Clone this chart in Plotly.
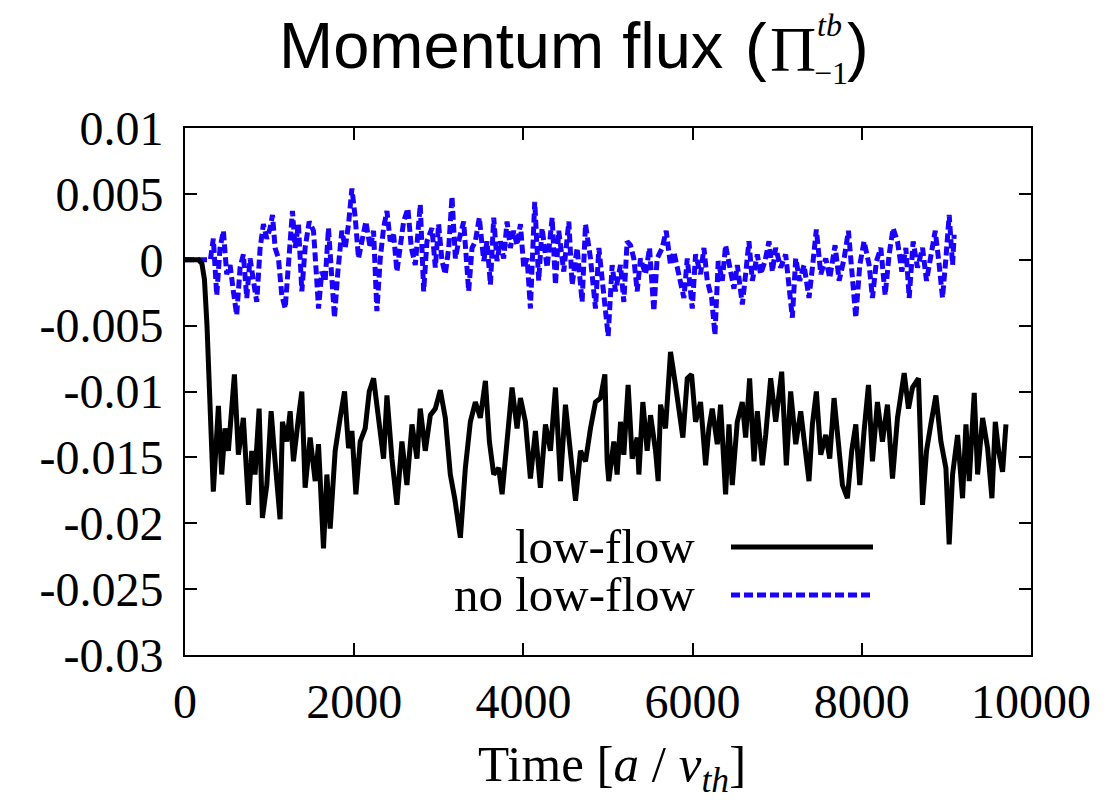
import plotly.graph_objects as go

# ---------------- data ----------------
t_low = [0, 160, 200, 230, 260, 290, 320, 335,
         395, 434, 473, 513, 584, 631, 690, 750, 789, 828, 876, 915, 967, 1018, 1065, 1124,
         1152, 1203, 1243, 1282, 1341, 1381, 1420, 1479, 1539, 1578, 1637, 1677, 1716, 1775,
         1834, 1886, 1933, 1973, 2020, 2071, 2130, 2178, 2229, 2288, 2347, 2387, 2446, 2505,
         2564, 2623, 2683, 2742, 2781, 2840, 2900, 2959, 3018, 3077, 3136, 3188, 3255, 3314,
         3373, 3432, 3491, 3551, 3598, 3649, 3708, 3748, 3807, 3866, 3925, 3965, 4024, 4083,
         4142, 4201, 4261, 4320, 4379, 4438, 4497, 4556, 4616, 4675, 4734, 4793, 4852, 4911,
         4963, 4990, 5009, 5069, 5108, 5148, 5187, 5238, 5286, 5345, 5365, 5412, 5463, 5503,
         5562, 5593, 5621, 5680, 5739, 5798, 5838, 5885, 5937, 5988, 6035, 6094, 6154, 6193,
         6232, 6292, 6331, 6390, 6430, 6469, 6528, 6587, 6627, 6674, 6726, 6765, 6824, 6864,
         6923, 6982, 7053, 7108, 7159, 7219, 7278, 7337, 7376, 7416, 7463, 7515, 7574, 7621,
         7672, 7732, 7771, 7830, 7881, 7929, 7976, 8027, 8079, 8126, 8185, 8244, 8303, 8363,
         8422, 8501, 8552, 8599, 8670, 8718, 8765, 8816, 8876, 8935, 8994, 9033, 9073, 9132,
         9191, 9231, 9270, 9329, 9369, 9428, 9487, 9538, 9578, 9617, 9664, 9704]
v_low = [0, 0, -0.0003, -0.0015, -0.005, -0.010, -0.0155, -0.0176,
         -0.0111, -0.0163, -0.0128, -0.0145, -0.0087, -0.0148, -0.0120, -0.0186, -0.0145, -0.0163,
         -0.0113, -0.0196, -0.0171, -0.0115, -0.0153, -0.0197,
         -0.0123, -0.0138, -0.0115, -0.0153, -0.0120, -0.0100, -0.0173, -0.0135, -0.0168, -0.0140,
         -0.0219, -0.0163, -0.0204, -0.0145,
         -0.0120, -0.0100, -0.0143, -0.0130, -0.0178, -0.0138, -0.0128, -0.0100, -0.0090, -0.0120,
         -0.0151, -0.0103, -0.0151, -0.0186,
         -0.0138, -0.0171, -0.0125, -0.0151, -0.0113, -0.0145, -0.0118, -0.0113, -0.0099, -0.0120,
         -0.0163, -0.0181, -0.0211, -0.0158,
         -0.0123, -0.0108, -0.0120, -0.0092, -0.0138, -0.0163, -0.0158, -0.0178, -0.0138, -0.0097,
         -0.0128, -0.0105, -0.0123, -0.0166,
         -0.0130, -0.0173, -0.0125, -0.0145, -0.0097, -0.0168, -0.0110, -0.0151, -0.0183, -0.0145,
         -0.0153, -0.0128, -0.0108, -0.0105,
         -0.0087, -0.0153, -0.0168, -0.0138, -0.0163, -0.0123, -0.0148, -0.0095, -0.0151, -0.0135,
         -0.0163, -0.0108, -0.0145, -0.0118,
         -0.0145, -0.0168, -0.0110, -0.0128, -0.0070, -0.0095, -0.0113, -0.0135, -0.0090, -0.0087,
         -0.0123, -0.0108, -0.0156, -0.0128,
         -0.0113, -0.0140, -0.0110, -0.0178, -0.0125, -0.0171, -0.0123, -0.0108, -0.0135, -0.0090,
         -0.0153, -0.0115, -0.0156, -0.0133,
         -0.0090, -0.0123, -0.0085, -0.0156, -0.0100, -0.0140, -0.0115, -0.0151, -0.0168, -0.0125,
         -0.0100, -0.0148, -0.0133, -0.0151,
         -0.0105, -0.0145, -0.0171, -0.0181, -0.0145, -0.0125, -0.0171, -0.0130, -0.0095, -0.0153,
         -0.0108, -0.0138, -0.0110, -0.0166,
         -0.0120, -0.0086, -0.0113, -0.0097, -0.0090, -0.0186, -0.0145, -0.0125, -0.0103, -0.0138,
         -0.0158, -0.0216, -0.0163, -0.0133,
         -0.0181, -0.0125, -0.0168, -0.0101, -0.0163, -0.0120, -0.0143, -0.0181, -0.0123, -0.0145,
         -0.0161, -0.0125]

t_nolow = [0, 300, 335, 375, 414, 454, 493, 533, 572, 611, 651, 690, 730, 769, 809, 848, 888,
           927, 967, 1006, 1034, 1065, 1105, 1144, 1184, 1223, 1270, 1302, 1341, 1381, 1420,
           1468, 1519, 1558, 1578, 1617, 1657, 1696, 1736, 1767, 1807, 1854, 1894, 1933, 1973,
           2012, 2051, 2091, 2138, 2189, 2229, 2268, 2308, 2347, 2387, 2426, 2466, 2505, 2545,
           2584, 2635, 2675, 2722, 2781, 2821, 2860, 2919, 2959, 2998, 3038, 3077, 3117, 3156,
           3196, 3235, 3294, 3353, 3393, 3432, 3479, 3531, 3570, 3610, 3649, 3688, 3728, 3767,
           3807, 3846, 3886, 3925, 3965, 4004, 4044, 4083, 4134, 4181, 4221, 4280, 4340, 4379,
           4418, 4477, 4537, 4576, 4635, 4694, 4734, 4793, 4852, 4892, 4951, 5002, 5049, 5088,
           5148, 5187, 5226, 5266, 5305, 5345, 5384, 5443, 5491, 5542, 5581, 5641, 5688, 5739,
           5779, 5838, 5897, 5937, 5996, 6035, 6094, 6134, 6173, 6225, 6264, 6303, 6351, 6390,
           6438, 6489, 6529, 6588, 6627, 6666, 6706, 6765, 6804, 6856, 6903, 6943, 6982, 7041,
           7100, 7140, 7179, 7219, 7266, 7317, 7376, 7416, 7463, 7515, 7574, 7621, 7684, 7732,
           7791, 7842, 7889, 7929, 7976, 8027, 8087, 8126, 8173, 8225, 8276, 8323, 8370, 8422,
           8473, 8521, 8560, 8607, 8658, 8718, 8765, 8816, 8868, 8915, 8954, 8994, 9033, 9073,
           9092]
v_nolow = [0, 0, 0.0016, -0.0027, 0.0009, 0.0022, -0.0011, -0.0004, -0.0024, -0.0042, -0.0006,
           0.0004, -0.0029, 0.0001, -0.0016, -0.0032, 0.0009,
           0.0027, 0.0016, 0.0024, 0.0034, 0.0009, 0.0001, -0.0027, -0.0037, -0.0004, 0.0037,
           0.0009, 0.0027, -0.0024, 0.0009,
           0.0029, 0.0022, -0.0016, -0.0037, -0.0009, -0.0016, 0.0024, -0.0024, -0.0044, -0.0009,
           0.0022, 0.0009, 0.0027, 0.0054,
           0.0032, 0.0001, 0.0014, 0.0029, 0.0009, 0.0022, -0.0039, 0.0001, 0.0024, 0.0037,
           0.0014, 0.0019, -0.0009, 0.0014,
           0.0029, 0.0039, 0.0009, -0.0004, 0.0042, -0.0024, 0.0014, 0.0024, -0.0006, 0.0027,
           -0.0001, -0.0011, 0.0009, 0.0048,
           0.0001, 0.0014, 0.0029, -0.0024, 0.0009, 0.0014, 0.0032, -0.0001, 0.0014, -0.0019,
           0.0032, -0.0001, 0.0014, 0.0001,
           0.0029, 0.0009, 0.0022, 0.0011, 0.0027, -0.0006, 0.0001, -0.0037, 0.0044, -0.0016,
           0.0024, -0.0006, 0.0032, -0.0019,
           0.0022, -0.0009, 0.0029, -0.0019, 0.0009, -0.0032, 0.0027, 0.0001, -0.0037, 0.0009,
           -0.0027, -0.0058, -0.0004, -0.0024,
           -0.0004, -0.0032, 0.0014, 0.0011, 0.0001, -0.0024, 0.0001, -0.0011, 0.0009, -0.0039,
           0.0001, 0.0009, 0.0022, -0.0004,
           0.0006, -0.0011, -0.0029, 0.0001, -0.0037, 0.0004, -0.0011, 0.0009, -0.0016, -0.0029,
           -0.0057, -0.0001, -0.0016, 0.0011,
           -0.0004, -0.0022, -0.0004, -0.0034, -0.0011, 0.0014, -0.0016, 0.0004, -0.0011, -0.0001,
           0.0014, -0.0009, 0.0009, -0.0006,
           0.0004, -0.0022, -0.0044, 0.0001, -0.0016, -0.0004, -0.0029, -0.0006, 0.0023, -0.0011,
           0.0001, -0.0014, 0.0011, -0.0016,
           0.0001, 0.0022, -0.0009, -0.0044, -0.0004, 0.0014, -0.0004, -0.0029, -0.0001, 0.0009,
           -0.0027, 0.0004, 0.0024, 0.0014,
           -0.0009, 0.0009, -0.0029, 0.0014, -0.0006, 0.0009, -0.0016, 0.0001, 0.0022, -0.0004,
           -0.0029, 0.0001, 0.0034, -0.0004,
           0.0019]

x_tickvals = [0, 2000, 4000, 6000, 8000, 10000]
x_ticktext = ["0", "2000", "4000", "6000", "8000", "10000"]
y_tickvals = [0.01, 0.005, 0, -0.005, -0.01, -0.015, -0.02, -0.025, -0.03]
y_ticktext = ["0.01", "0.005", "0", "-0.005", "-0.01", "-0.015", "-0.02", "-0.025", "-0.03"]

series_names = ["low-flow", "no low-flow"]

# ---------------- styling ----------------
BLUE = "#1a00ff"
SERIF = "Liberation Serif"
SANS = "Liberation Sans"
OFF = 8                      # default page body margin
W, H = 1107 - OFF, 800 - OFF
PL, PR, PT, PB = 185, 1031, 128, 655   # plot area in page pixels
L, T = PL - OFF, PT - OFF
R, B = W - (PR - OFF), H - (PB - OFF)
pw, ph = PR - PL, PB - PT


def px_x(p):
    return (p - PL) / pw


def px_y(p):
    return (PB - p) / ph


fig = go.Figure()
fig.add_trace(go.Scatter(x=t_nolow, y=v_nolow, mode="lines", name=series_names[1],
                         line=dict(color=BLUE, width=5, dash="9px,4px"), showlegend=False))
fig.add_trace(go.Scatter(x=t_low, y=v_low, mode="lines", name=series_names[0],
                         line=dict(color="black", width=5), showlegend=False))

axis_common = dict(showline=True, linecolor="black", linewidth=2, mirror="ticks",
                   ticks="inside", ticklen=12, tickwidth=2, tickcolor="black",
                   showgrid=False, zeroline=False,
                   tickfont=dict(family=SERIF, size=48, color="black"))

fig.update_xaxes(range=[0, 10000], tickvals=x_tickvals, ticktext=x_ticktext,
                 ticklabelstandoff=3, **axis_common)
fig.update_yaxes(range=[-0.03, 0.01], tickvals=y_tickvals, ticktext=y_ticktext,
                 ticklabelstandoff=10, **axis_common)

ann = []
TXT = dict(xref="paper", yref="paper", showarrow=False, yanchor="middle")
# x axis title
ann.append(dict(text="Time [<i>a</i> / <i>v</i><sub><i>th</i></sub>]", x=px_x(612), y=px_y(768),
                xanchor="center", font=dict(family=SERIF, size=51, color="black"), **TXT))
# legend texts
ann.append(dict(text=series_names[0], x=px_x(697), y=px_y(546), xanchor="right",
                font=dict(family=SERIF, size=49, color="black"), **TXT))
ann.append(dict(text=series_names[1], x=px_x(697), y=px_y(594), xanchor="right",
                font=dict(family=SERIF, size=49, color="black"), **TXT))
# title pieces
ann.append(dict(text="Momentum flux", x=px_x(277), y=px_y(45), xanchor="left",
                font=dict(family=SANS, size=65, color="black"), **TXT))
ann.append(dict(text="(", x=px_x(743), y=px_y(47), xanchor="left",
                font=dict(family=SANS, size=65, color="black"), **TXT))
ann.append(dict(text="Π", x=px_x(768), y=px_y(49), xanchor="left",
                font=dict(family=SERIF, size=64, color="black"), **TXT))
ann.append(dict(text="<i>tb</i>", x=px_x(815), y=px_y(25), xanchor="left",
                font=dict(family=SERIF, size=32, color="black"), **TXT))
ann.append(dict(text="−1", x=px_x(812), y=px_y(73), xanchor="left",
                font=dict(family=SERIF, size=32, color="black"), **TXT))
ann.append(dict(text=")", x=px_x(845), y=px_y(47), xanchor="left",
                font=dict(family=SANS, size=65, color="black"), **TXT))

shapes = [
    dict(type="line", xref="paper", yref="paper", x0=px_x(731), x1=px_x(873),
         y0=px_y(547), y1=px_y(547), line=dict(color="black", width=5)),
    dict(type="line", xref="paper", yref="paper", x0=px_x(731), x1=px_x(873),
         y0=px_y(595), y1=px_y(595), line=dict(color=BLUE, width=5, dash="9px,4px")),
]

fig.update_layout(width=W, height=H, margin=dict(l=L, r=R, t=T, b=B, pad=0),
                  paper_bgcolor="white", plot_bgcolor="white",
                  annotations=ann, shapes=shapes, showlegend=False)

fig.write_html("out.html")
